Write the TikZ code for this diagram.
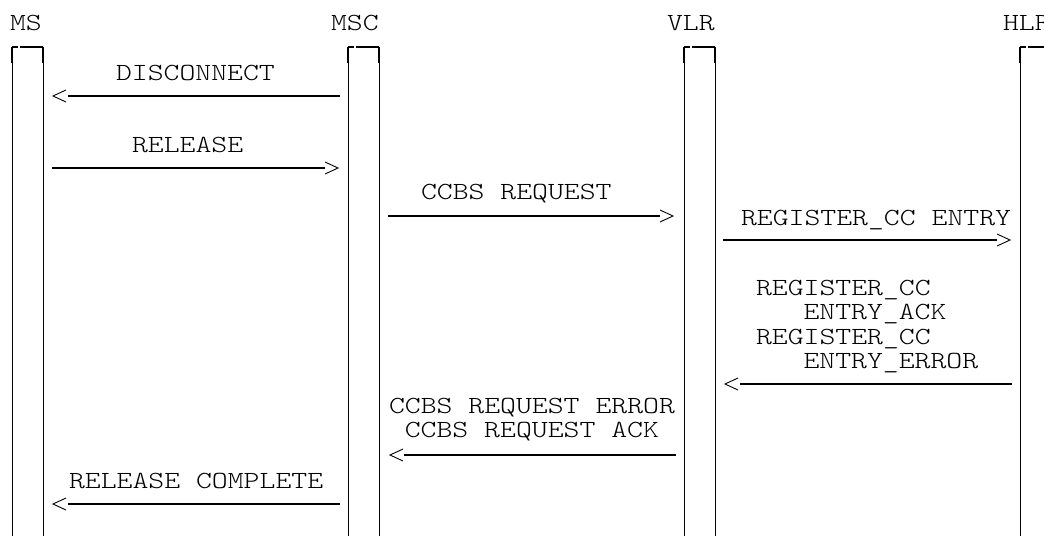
\documentclass[tikz,border=0pt]{standalone}
\usepackage{fontspec}
\newfontfamily\courlike{lmmonolt10-regular.otf}[FakeStretch=1.23]
\tikzset{
  lbl/.style={font=\courlike\fontsize{24.6}{24}\selectfont, inner sep=0pt, outer sep=0pt, anchor=base west},
  msgline/.style={line width=2.4pt},
  chev/.style={line width=0.9pt, line join=miter},
  lifethin/.style={line width=1pt},
  lifetop/.style={line width=2pt},
}
\newcommand\chevleft[1]{\draw[chev] ([shift={(13,-6)}]#1) -- (#1) -- ([shift={(13,6)}]#1);}
\newcommand\chevright[1]{\draw[chev] ([shift={(-13,-6)}]#1) -- (#1) -- ([shift={(-13,6)}]#1);}
\begin{document}
\begin{tikzpicture}[x=1pt,y=-1pt]
\useasboundingbox (0,0) rectangle (1044,536);
\clip (0,0) rectangle (1044,536);
% headers
\node[lbl] (hMS)  at (10,30)   {MS};
\node[lbl] (hMSC) at (331,30)  {MSC};
\node[lbl] (hVLR) at (667,30)  {VLR};
\node[lbl] (hHLR) at (1003,30) {HLR};
% lifelines
\foreach \L/\n in {12/ms,348/msc,684/vlr,1020/hlr}{
  \coordinate (\n-tl) at (\L,47);
  \coordinate (\n-tr) at (\L+31,47);
  \coordinate (\n-bl) at (\L,536);
  \coordinate (\n-br) at (\L+31,536);
  \draw[lifetop] (\n-tl) -- ++(6,0) ++(2,0) -- (\n-tr);
  \draw[lifetop] (\n-tl) -- ++(0,16);
  \draw[lifetop] (\n-tr) -- ++(0,16);
  \draw[lifethin] (\n-tl) -- (\n-bl);
  \draw[lifethin] (\n-tr) -- (\n-br);
}
% 1 DISCONNECT
\node[lbl] (t1) at (116,80) {DISCONNECT};
\coordinate (a1tip) at (53,96); \coordinate (a1far) at (340,96);
\draw[msgline] (a1far) -- ([xshift=15]a1tip); \chevleft{a1tip}
% 2 RELEASE
\node[lbl] (t2) at (132,152) {RELEASE};
\coordinate (a2tip) at (338,168); \coordinate (a2far) at (52,168);
\draw[msgline] (a2far) -- ([xshift=-13]a2tip); \chevright{a2tip}
% 3 CCBS REQUEST
\node[lbl] (t3) at (421,199) {CCBS REQUEST};
\coordinate (a3tip) at (673,216); \coordinate (a3far) at (388,216);
\draw[msgline] (a3far) -- ([xshift=-13]a3tip); \chevright{a3tip}
% 4 REGISTER_CC ENTRY
\node[lbl] (t4) at (741,225) {REGISTER\_CC ENTRY};
\coordinate (a4tip) at (1010,240); \coordinate (a4far) at (723,240);
\draw[msgline] (a4far) -- ([xshift=-13]a4tip); \chevright{a4tip}
% 5 REGISTER_CC ENTRY_ACK / ERROR
\node[lbl] (t5a) at (756,295)   {REGISTER\_CC};
\node[lbl] (t5b) at (803.5,319.5) {ENTRY\_ACK};
\node[lbl] (t5c) at (756,344)   {REGISTER\_CC};
\node[lbl] (t5d) at (803.5,368) {ENTRY\_ERROR};
\coordinate (a5tip) at (725,384); \coordinate (a5far) at (1012,384);
\draw[msgline] (a5far) -- ([xshift=15]a5tip); \chevleft{a5tip}
% 6 CCBS REQUEST ERROR / ACK
\node[lbl] (t6a) at (389,413) {CCBS REQUEST ERROR};
\node[lbl] (t6b) at (404.8,437) {CCBS REQUEST ACK};
\coordinate (a6tip) at (390,455); \coordinate (a6far) at (676,455);
\draw[msgline] (a6far) -- ([xshift=14]a6tip); \chevleft{a6tip}
% 7 RELEASE COMPLETE
\node[lbl] (t7) at (69,488) {RELEASE COMPLETE};
\coordinate (a7tip) at (53,504); \coordinate (a7far) at (340,504);
\draw[msgline] (a7far) -- ([xshift=15]a7tip); \chevleft{a7tip}
\end{tikzpicture}
\end{document}
